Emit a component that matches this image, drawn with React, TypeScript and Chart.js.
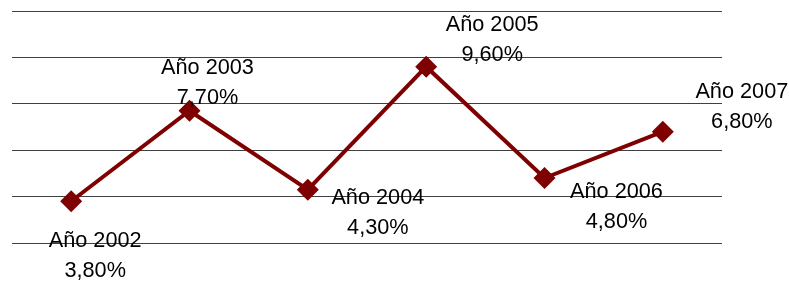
import React, { useEffect, useRef } from "react";
import { Chart, registerables } from "chart.js";

Chart.register(...registerables);

const categories = ["Año 2002", "Año 2003", "Año 2004", "Año 2005", "Año 2006", "Año 2007"];
const values = [3.8, 7.7, 4.3, 9.6, 4.8, 6.8];
const valueLabels = ["3,80%", "7,70%", "4,30%", "9,60%", "4,80%", "6,80%"];

// label placement offsets (layout only): [dx, dy] of label block centre from point
const labelOffsets: [number, number][] = [
  [24, 55],
  [18, -28],
  [70, 23],
  [66, -27],
  [72, 29],
  [79, -25],
];

const labelPlugin = {
  id: "pointLabels",
  afterDatasetsDraw(chart: any) {
    const ctx = chart.ctx;
    const meta = chart.getDatasetMeta(0);
    ctx.save();
    ctx.font = '21.7px "Liberation Sans", Arial, sans-serif';
    ctx.fillStyle = "#000000";
    ctx.textAlign = "center";
    ctx.textBaseline = "middle";
    meta.data.forEach((pt: any, i: number) => {
      const [dx, dy] = labelOffsets[i];
      const cx = pt.x + dx;
      const cy = pt.y + dy;
      ctx.fillText(categories[i], cx, cy - 15);
      ctx.fillText(valueLabels[i], cx, cy + 15);
    });
    ctx.restore();
  },
};

export default function App() {
  const ref = useRef<HTMLCanvasElement | null>(null);
  useEffect(() => {
    if (!ref.current) return;
    const chart = new Chart(ref.current, {
      type: "line",
      data: {
        labels: categories,
        datasets: [
          {
            data: values,
            borderColor: "#7f0000",
            backgroundColor: "#7f0000",
            borderWidth: 4,
            pointStyle: "rectRot",
            pointRadius: 11,
            pointBorderWidth: 0,
            pointBackgroundColor: "#7f0000",
            tension: 0,
          },
        ],
      },
      options: {
        animation: false,
        responsive: false,
        maintainAspectRatio: false,
        layout: { padding: { left: 12, right: 67, top: 11, bottom: 41 } },
        plugins: { legend: { display: false }, tooltip: { enabled: false } },
        scales: {
          x: {
            type: "category",
            offset: true,
            display: false,
          },
          y: {
            min: 2,
            max: 12,
            ticks: { display: false, stepSize: 2 },
            grid: { color: "#404040", lineWidth: 1, drawTicks: false },
            border: { display: false },
          },
        },
      },
      plugins: [labelPlugin],
    });
    return () => chart.destroy();
  }, []);
  return (
    <div style={{ position: "fixed", left: 0, top: 0, width: 789, height: 284, background: "#fff" }}>
      <canvas ref={ref} width={789} height={284} style={{ width: 789, height: 284 }} />
    </div>
  );
}
